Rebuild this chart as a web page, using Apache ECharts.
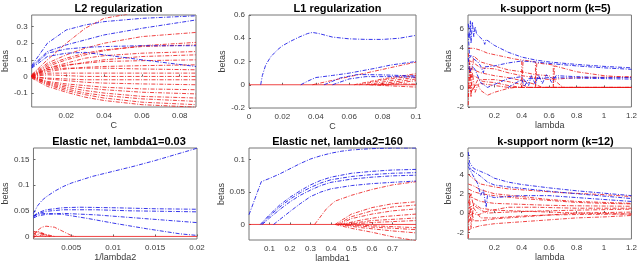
<!DOCTYPE html>
<html><head><meta charset="utf-8">
<script src="https://cdn.jsdelivr.net/npm/echarts@6/dist/echarts.min.js"></script>
<style>html,body{margin:0;background:#fff}#c{width:640px;height:264px}</style>
</head><body><div id="c"></div>
<script>
// ---------- titles / axis names ----------
const titles = ['L2 regularization','L1 regularization','k-support norm (k=5)','Elastic net, lambda1=0.03','Elastic net, lambda2=160','k-support norm (k=12)'];
const xNames = ['C','C','lambda','1/lambda2','lambda1','lambda'];
const yName = 'betas';
// ---------- tick labels ----------
const xTicks = [[0.02,0.04,0.06,0.08],[0,0.02,0.04,0.06,0.08,0.1],[0.2,0.4,0.6,0.8,1,1.2],[0.005,0.01,0.015,0.02],[0.1,0.2,0.3,0.4,0.5,0.6,0.7],[0.2,0.4,0.6,0.8,1,1.2]];
const yTicks = [[-0.1,0,0.1,0.2,0.3],[-0.2,0,0.2,0.4,0.6],[-2,0,2,4,6],[0,0.05,0.1,0.15],[0,0.05,0.1],[-2,0,2,4,6]];
const xRange = [[0.0017,0.0886],[0,0.1],[0.008,1.2],[0.0005,0.02],[0,0.815],[0.008,1.2]];
const yRange = [[-0.184,0.37],[-0.2,0.6],[-2,7.4],[-0.005,0.1725],[-0.024,0.118],[-2.68,6.72]];

// ---------- Panel 1: L2 regularization ----------
const l2X = [0.0017,0.01,0.02,0.03,0.04,0.06,0.0886];
const l2Blue = [
 [0.065,0.20,0.28,0.31,0.33,0.35,0.365],
 [0.06,0.15,0.19,0.22,0.25,0.29,0.34],
 [0.055,0.14,0.165,0.175,0.18,0.185,0.185],
 [0.05,0.12,0.14,0.145,0.13,0.10,0.06]
];
const l2Red = [
 [0.01,0.10,0.20,0.29,0.35,0.39,0.41],
 [0.01,0.08,0.13,0.17,0.20,0.24,0.265],
 [0.005,0.06,0.10,0.13,0.155,0.185,0.205],
 [0.005,0.07,0.11,0.14,0.16,0.18,0.19],
 [0.005,0.05,0.08,0.11,0.125,0.14,0.15],
 [0.0,0.04,0.065,0.085,0.10,0.12,0.13],
 [0.0,0.05,0.07,0.08,0.09,0.095,0.10],
 [0.0,0.03,0.045,0.055,0.06,0.065,0.07],
 [0.005,0.04,0.05,0.05,0.05,0.045,0.04],
 [0.0,0.02,0.02,0.02,0.02,0.02,0.02],
 [0.0,0.01,0.005,0.0,0.0,0.0,0.0],
 [0.0,-0.01,-0.015,-0.02,-0.02,-0.02,-0.02],
 [0.0,-0.015,-0.025,-0.035,-0.04,-0.045,-0.05],
 [0.0,-0.03,-0.045,-0.055,-0.065,-0.075,-0.08],
 [0.0,-0.035,-0.055,-0.07,-0.08,-0.095,-0.105],
 [0.0,-0.04,-0.065,-0.085,-0.10,-0.12,-0.13],
 [-0.005,-0.045,-0.075,-0.10,-0.115,-0.135,-0.15],
 [-0.005,-0.05,-0.085,-0.11,-0.13,-0.155,-0.17],
 [-0.01,-0.06,-0.095,-0.125,-0.145,-0.17,-0.185]
];

// ---------- Panel 2: L1 regularization ----------
const l1Blue = [
 [[0.007,0],[0.008,0.08],[0.01,0.17],[0.013,0.24],[0.017,0.30],[0.02,0.335],[0.025,0.375],[0.03,0.41],[0.035,0.44],[0.038,0.45],[0.042,0.44],[0.05,0.41],[0.06,0.395],[0.07,0.39],[0.08,0.39],[0.09,0.40],[0.1,0.425]],
 [[0.031,0],[0.035,0.03],[0.04,0.062],[0.05,0.08],[0.06,0.10],[0.075,0.14],[0.085,0.17],[0.095,0.19],[0.1,0.2]],
 [[0.045,0],[0.055,0.06],[0.065,0.088],[0.08,0.085],[0.1,0.075]],
 [[0.05,0],[0.06,0.05],[0.07,0.07],[0.085,0.07],[0.1,0.065]]
];
const l1Red = [
 [[0,0],[0.1,0]],
 [[0.038,0],[0.1,0.195]],
 [[0.063,0],[0.08,0.05],[0.1,0.095]],
 [[0.066,0],[0.08,0.04],[0.1,0.08]],
 [[0.07,0],[0.085,0.035],[0.1,0.065]],
 [[0.074,0],[0.09,0.03],[0.1,0.05]],
 [[0.08,0],[0.1,0.035]],
 [[0.078,0],[0.09,0.008],[0.1,0.005]],
 [[0.072,0],[0.085,-0.01],[0.1,-0.02]]
];

// ---------- Panel 3: k-support norm (k=5) ----------
const ks5Blue = [
 [[0.01,6.5],[0.02,5.0],[0.025,6.8],[0.03,4.5],[0.04,6.7],[0.05,5.2],[0.06,6.2],[0.07,5.5],[0.09,5.2],[0.12,4.8],[0.13,4.4],[0.14,4.9],[0.2,4.3],[0.3,3.6],[0.4,3.1],[0.5,2.8],[0.6,2.6],[0.8,2.35],[1.0,2.15],[1.2,2.0]],
 [[0.01,5.5],[0.02,3.0],[0.03,3.3],[0.05,2.9],[0.08,2.6],[0.1,2.2],[0.12,1.5],[0.13,2.1],[0.2,2.2],[0.3,2.5],[0.4,2.7],[0.5,2.6],[0.6,2.45],[0.8,2.2],[1.0,2.0],[1.2,1.85]],
 [[0.01,3.0],[0.02,1.5],[0.04,2.2],[0.06,1.8],[0.1,0.5],[0.15,0.0],[0.2,0.3],[0.3,0.9],[0.4,1.1],[0.45,0.2],[0.47,1.2],[0.5,0.3],[0.52,1.3],[0.55,0.4],[0.58,1.3],[0.62,0.5],[0.65,1.2],[0.8,1.1],[1.0,1.0],[1.2,1.0]],
 [[0.3,0],[0.4,0.8],[0.42,0.1],[0.45,0.9],[0.5,0.9],[0.6,1.0],[0.8,0.95],[1.0,0.9],[1.2,0.85]]
];
const ks5Red = [
 [[0.01,4.0],[0.05,4.0],[0.1,3.8],[0.15,3.5],[0.25,3.2],[0.35,2.9],[0.4,2.8],[0.4,0],[0.41,2.8],[0.5,2.6],[0.5,0],[0.51,2.5],[0.63,2.3],[0.63,0],[0.64,2.2],[0.8,1.6],[1.0,1.2],[1.2,1.0]],
 [[0.01,2.8],[0.05,2.5],[0.1,2.0],[0.2,1.9],[0.3,1.5],[0.4,1.2],[0.5,1.0],[0.6,0.8],[0.8,1.0],[1.0,1.05],[1.2,1.1]],
 [[0.01,2.0],[0.05,1.8],[0.1,1.5],[0.2,1.2],[0.3,1.0],[0.4,0.7],[0.5,0.3],[0.55,0],[1.2,0]],
 [[0.01,1.0],[0.05,1.2],[0.1,0.8],[0.2,0.8],[0.3,0.6],[0.4,0.3],[0.45,0],[1.2,0]],
 [[0.01,-1.8],[0.02,2.5],[0.03,-1.0],[0.04,1.5],[0.06,-0.5],[0.08,0.3],[0.1,-0.3],[0.15,-0.8],[0.2,-0.5],[0.3,-0.1],[0.35,0],[1.2,0]],
 [[0.01,0.5],[0.03,-0.5],[0.06,0.2],[0.1,0.4],[0.2,0.2],[0.3,0],[1.2,0]],
 [[0.01,3.5],[0.03,1.0],[0.05,3.2],[0.1,2.6],[0.2,2.2],[0.3,1.8],[0.4,1.6],[0.5,1.3],[0.6,1.2],[0.7,0],[1.2,0]],
 [[0.01,-1.0],[0.02,1.8],[0.04,-0.3],[0.08,0.8],[0.12,0.6],[0.2,0.5],[0.3,0.2],[0.4,0],[1.2,0]]
];

// ---------- Panel 4: Elastic net, lambda1=0.03 ----------
const en1Blue = [
 [[0.0005,0.045],[0.001,0.06],[0.0015,0.07],[0.002,0.077],[0.003,0.088],[0.004,0.097],[0.005,0.104],[0.0075,0.117],[0.01,0.127],[0.0125,0.137],[0.015,0.148],[0.0175,0.16],[0.02,0.172]],
 [[0.0005,0.04],[0.001,0.046],[0.002,0.052],[0.004,0.056],[0.006,0.057],[0.01,0.056],[0.015,0.054],[0.02,0.053]],
 [[0.0005,0.038],[0.001,0.044],[0.002,0.049],[0.004,0.052],[0.008,0.052],[0.012,0.05],[0.02,0.048]],
 [[0.0005,0.036],[0.001,0.04],[0.002,0.043],[0.004,0.045],[0.008,0.042],[0.012,0.037],[0.016,0.032],[0.02,0.027]],
 [[0.0005,0.04],[0.001,0.043],[0.002,0.045],[0.004,0.043],[0.007,0.035],[0.01,0.026],[0.014,0.015],[0.018,0.005],[0.02,0.002]]
];
const en1Red = [
 [[0.0005,0],[0.02,0]],
 [[0.0005,0],[0.001,0.012],[0.0015,0.018],[0.002,0.02],[0.003,0.018],[0.004,0.01],[0.005,0.002],[0.0055,0]],
 [[0.0005,0.01],[0.001,0.008],[0.0015,0.005],[0.002,0.002],[0.0025,0]],
 [[0.0005,0.005],[0.001,0.01],[0.0015,0.007],[0.002,0.004],[0.003,0]],
 [[0.0005,-0.003],[0.001,0.004],[0.0015,0.006],[0.002,0.003],[0.0025,0]],
 [[0.0005,0.008],[0.001,0.0],[0.0015,0.003],[0.002,0]]
];

// ---------- Panel 5: Elastic net, lambda2=160 ----------
const en2Blue = [
 [[0,0.015],[0.06,0.066],[0.1,0.071],[0.15,0.078],[0.2,0.086],[0.25,0.094],[0.3,0.101],[0.35,0.106],[0.4,0.11],[0.45,0.113],[0.5,0.115],[0.6,0.117],[0.7,0.118],[0.815,0.118]],
 [[0.055,0],[0.1,0.015],[0.15,0.03],[0.2,0.042],[0.25,0.052],[0.3,0.061],[0.35,0.068],[0.4,0.073],[0.5,0.079],[0.6,0.082],[0.7,0.084],[0.815,0.085]],
 [[0.06,0],[0.1,0.013],[0.15,0.027],[0.2,0.039],[0.25,0.049],[0.3,0.057],[0.35,0.064],[0.4,0.069],[0.5,0.074],[0.6,0.077],[0.7,0.079],[0.815,0.08]],
 [[0.065,0],[0.1,0.01],[0.15,0.023],[0.2,0.035],[0.25,0.045],[0.3,0.053],[0.35,0.06],[0.4,0.065],[0.5,0.07],[0.6,0.073],[0.7,0.075],[0.815,0.076]],
 [[0.12,0],[0.2,0.02],[0.25,0.032],[0.3,0.043],[0.35,0.05],[0.4,0.055],[0.5,0.06],[0.6,0.063],[0.7,0.065],[0.815,0.067]]
];
const en2Red = [
 [[0,0],[0.815,0]],
 [[0.32,0],[0.38,0.025],[0.42,0.036],[0.5,0.045],[0.6,0.054],[0.7,0.061],[0.815,0.066]],
 [[0.42,0],[0.5,0.016],[0.6,0.026],[0.7,0.032],[0.815,0.035]],
 [[0.43,0],[0.5,0.012],[0.6,0.021],[0.7,0.027],[0.815,0.03]],
 [[0.44,0],[0.5,0.009],[0.6,0.016],[0.7,0.021],[0.815,0.024]],
 [[0.45,0],[0.55,0.007],[0.65,0.012],[0.815,0.016]],
 [[0.46,0],[0.6,0.006],[0.815,0.01]],
 [[0.47,0],[0.6,0.003],[0.815,0.006]],
 [[0.45,0],[0.6,-0.002],[0.815,-0.005]],
 [[0.44,0],[0.6,-0.004],[0.815,-0.008]],
 [[0.43,0],[0.55,-0.005],[0.7,-0.01],[0.815,-0.013]],
 [[0.42,0],[0.5,-0.006],[0.6,-0.012],[0.7,-0.019],[0.815,-0.025]]
];

// ---------- Panel 6: k-support norm (k=12) ----------
const ks12Blue = [
 [[0.01,6.3],[0.02,5.2],[0.03,5.0],[0.05,4.6],[0.1,4.3],[0.15,4.0],[0.2,3.6],[0.3,3.2],[0.4,2.95],[0.6,2.6],[0.8,2.3],[1.0,2.05],[1.2,1.8]],
 [[0.01,5.2],[0.03,4.5],[0.06,4.2],[0.1,3.8],[0.15,3.2],[0.2,2.9],[0.3,2.7],[0.4,2.55],[0.6,2.25],[0.8,2.0],[1.0,1.75],[1.2,1.5]],
 [[0.01,4.8],[0.04,4.0],[0.08,3.0],[0.1,1.8],[0.12,2.4],[0.14,0.6],[0.15,1.8],[0.2,1.6],[0.3,1.7],[0.4,1.8],[0.6,1.8],[0.8,1.6],[1.0,1.4],[1.2,1.2]]
];
const ks12Red = [
 [[0.01,4.0],[0.05,3.5],[0.1,3.0],[0.2,2.7],[0.3,2.5],[0.5,2.3],[0.7,2.1],[1.0,1.9],[1.2,1.7]],
 [[0.01,3.0],[0.05,2.8],[0.1,2.4],[0.2,2.0],[0.4,1.7],[0.6,1.4],[0.8,1.2],[1.2,1.0]],
 [[0.01,2.5],[0.05,2.2],[0.1,2.0],[0.2,1.8],[0.4,1.5],[0.6,1.3],[0.8,1.1],[1.0,1.0],[1.2,0.95]],
 [[0.01,2.0],[0.05,1.5],[0.1,1.2],[0.2,1.0],[0.4,0.9],[0.6,0.8],[0.8,0.75],[1.2,0.7]],
 [[0.01,-1.0],[0.04,0.0],[0.08,-0.2],[0.15,0.2],[0.3,0.6],[0.5,0.6],[0.8,0.5],[1.2,0.5]],
 [[0.01,0.5],[0.05,0.8],[0.1,0.3],[0.15,0],[0.3,0.1],[0.5,0.2],[0.8,0.3],[1.2,0.4]],
 [[0.01,-2.6],[0.02,1.8],[0.03,-1.5],[0.05,1.0],[0.1,0.5],[0.2,0.3],[0.4,0.2],[0.6,0.1],[0.8,0.0],[1.2,-0.1]],
 [[0.01,-0.5],[0.03,0.5],[0.05,-0.8],[0.1,-0.8],[0.2,-0.6],[0.4,-0.4],[0.6,-0.2],[0.8,0.0],[1.2,0.1]],
 [[0.01,1.0],[0.03,2.0],[0.05,0.5],[0.1,-0.5],[0.2,-0.5],[0.4,-0.3],[0.6,-0.2],[0.8,-0.15],[1.2,-0.1]],
 [[0.01,-1.8],[0.03,-1.6],[0.05,-1.5],[0.1,-1.3],[0.2,-1.1],[0.4,-0.9],[0.6,-0.7],[0.8,-0.5],[1.0,-0.4],[1.2,-0.25]]
];

// ---------- layout ----------
const grids = [
 {left:31, top:15, width:165, height:92},
 {left:249, top:15, width:167, height:93},
 {left:468, top:15, width:165, height:92},
 {left:31, top:148, width:166, height:91},
 {left:249, top:148, width:167, height:92},
 {left:468, top:148, width:165, height:91}
];
const yNameGap = [20,19,13.5,20,19,13.5];
const FONT = 'Liberation Sans, Arial, Helvetica, sans-serif';
const BLUE = 'rgba(20,20,230,0.85)';
const RED = 'rgba(235,20,20,0.8)';

const option = {animation:false, backgroundColor:'#fff', title:[], grid:[], xAxis:[], yAxis:[], series:[]};
for (let i=0;i<6;i++){
  const g = grids[i];
  option.grid.push(Object.assign({show:true, borderColor:'#777', borderWidth:1, backgroundColor:'#fff', containLabel:false}, g));
  option.title.push({text:titles[i], left:g.left+g.width/2, top:g.top-17, textAlign:'center',
    textStyle:{fontFamily:FONT, fontSize:11, fontWeight:'bold', color:'#000'}});
  const axCommon = {type:'value', splitLine:{show:false},
    axisLine:{show:false}, axisTick:{show:true, inside:true, length:2, lineStyle:{color:'#666'}},
    axisLabel:{fontFamily:FONT, fontSize:8, color:'#3a3a3a'},
    nameTextStyle:{fontFamily:FONT, fontSize:9, color:'#3a3a3a'}, nameLocation:'middle'};
  option.xAxis.push(Object.assign({}, axCommon, {gridIndex:i, min:xRange[i][0], max:xRange[i][1], name:xNames[i], nameGap:14,
    axisTick:Object.assign({}, axCommon.axisTick, {customValues:xTicks[i]}),
    axisLabel:Object.assign({}, axCommon.axisLabel, {customValues:xTicks[i], margin:5})}));
  option.yAxis.push(Object.assign({}, axCommon, {gridIndex:i, min:yRange[i][0], max:yRange[i][1], name:yName, nameGap:yNameGap[i],
    axisTick:Object.assign({}, axCommon.axisTick, {customValues:yTicks[i]}),
    axisLabel:Object.assign({}, axCommon.axisLabel, {customValues:yTicks[i], margin:4})}));
}
function addLine(idx, data, color, solid){
  option.series.push({type:'line', xAxisIndex:idx, yAxisIndex:idx, data:data, symbol:'none', clip:true,
    silent:true, lineStyle:{color:color, width:1, type: solid?'solid':[4,1.5,1,1.5]}});
}
function pairs(xs, ys){ return xs.map((x,k)=>[x, ys[k]]); }

l2Red.forEach(v=>addLine(0, pairs(l2X, v), RED));
l2Blue.forEach(v=>addLine(0, pairs(l2X, v), BLUE));
l1Red.forEach((v,k)=>addLine(1, v, RED, k===0));
l1Blue.forEach(v=>addLine(1, v, BLUE));
ks5Red.forEach(v=>addLine(2, v, RED));
ks5Blue.forEach(v=>addLine(2, v, BLUE));
en1Red.forEach((v,k)=>addLine(3, v, RED, k===0));
en1Blue.forEach(v=>addLine(3, v, BLUE));
en2Red.forEach((v,k)=>addLine(4, v, RED, k===0));
en2Blue.forEach(v=>addLine(4, v, BLUE));
ks12Red.forEach(v=>addLine(5, v, RED));
ks12Blue.forEach(v=>addLine(5, v, BLUE));

const chart = echarts.init(document.getElementById('c'), null, {renderer:'canvas'});
chart.setOption(option);
</script></body></html>
